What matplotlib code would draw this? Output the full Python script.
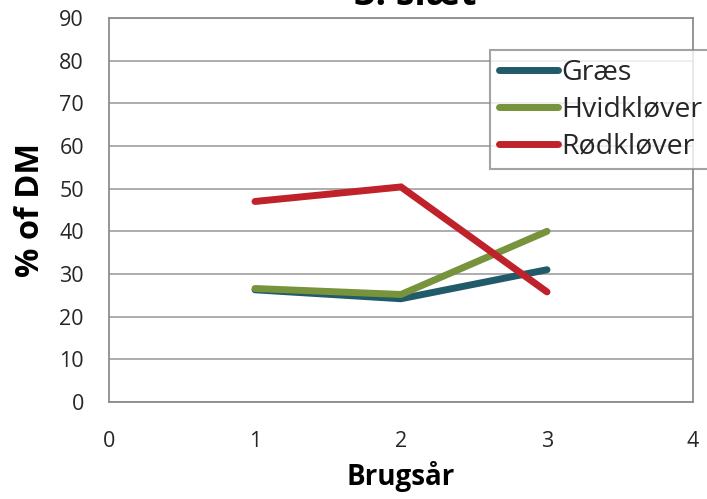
import matplotlib
matplotlib.use('Agg')
import matplotlib.pyplot as plt

# Data
brugsaar = [1, 2, 3]
graes = [26.3, 24.2, 31.0]
hvidklover = [26.6, 25.2, 40.0]
roedklover = [47.0, 50.4, 25.8]

series = [('Græs', graes, '#215A68'),
          ('Hvidkløver', hvidklover, '#77933C'),
          ('Rødkløver', roedklover, '#C0222B')]

plt.rcParams['font.family'] = ['Open Sans', 'DejaVu Sans']

W, H = 707, 499
fig = plt.figure(figsize=(W / 100, H / 100), dpi=100)
ax = fig.add_axes([109 / W, 1 - 402 / H, (693 - 109) / W, (402 - 18) / H])

for name, vals, col in series:
    ax.plot(brugsaar, vals, color=col, lw=5, label=name,
            solid_capstyle='round', solid_joinstyle='miter')

ax.set_xlim(0, 4)
ax.set_ylim(0, 90)
ax.set_xticks(range(0, 5))
ax.set_yticks(range(0, 91, 10))
ax.yaxis.grid(True, color='#A6A6A6', lw=1.3)
ax.set_axisbelow(True)
for s in ax.spines.values():
    s.set_color('#8C8C8C')
    s.set_linewidth(1.3)
ax.tick_params(length=0, labelsize=15.5, colors='#262626')
ax.tick_params(axis='x', pad=21)
ax.tick_params(axis='y', pad=18)

ax.set_ylabel('% of DM', fontsize=23.5, fontweight='bold', labelpad=9)
ax.set_xlabel('Brugsår', fontsize=20, fontweight='bold', labelpad=6)

fig.text(415 / W, 1 - 5 / H, '3. slæt', fontsize=27, fontweight='bold',
         ha='center', va='baseline')

leg = fig.legend(loc='upper left', bbox_to_anchor=(490 / W, 1 - 50 / H),
                 bbox_transform=fig.transFigure, borderaxespad=0,
                 fontsize=20.5, frameon=True, fancybox=False,
                 handlelength=2.1, handletextpad=0.1, borderpad=0.3,
                 labelspacing=0.32)
leg.get_frame().set_edgecolor('#8C8C8C')
leg.get_frame().set_linewidth(1.5)
for t in leg.get_texts():
    t.set_color('#262626')

fig.savefig('out.png', dpi=100)
